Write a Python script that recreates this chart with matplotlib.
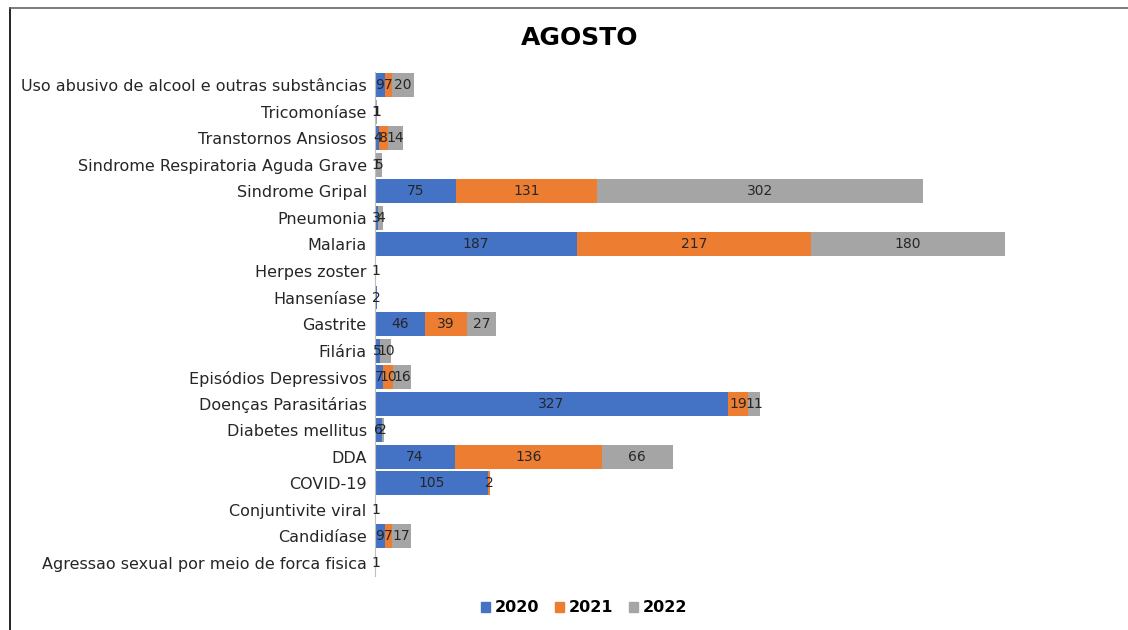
import matplotlib.pyplot as plt
import numpy as np
from matplotlib.lines import Line2D
from matplotlib.patches import Patch

# categories listed top to bottom as in the chart
CATEGORIES = [
    "Uso abusivo de alcool e outras substâncias",
    "Tricomoníase",
    "Transtornos Ansiosos",
    "Sindrome Respiratoria Aguda Grave",
    "Sindrome Gripal",
    "Pneumonia",
    "Malaria",
    "Herpes zoster",
    "Hanseníase",
    "Gastrite",
    "Filária",
    "Episódios Depressivos",
    "Doenças Parasitárias",
    "Diabetes mellitus",
    "DDA",
    "COVID-19",
    "Conjuntivite viral",
    "Candidíase",
    "Agressao sexual por meio de forca fisica",
]
Y2020 = [9, 1, 4, 1, 75, 3, 187, 1, 2, 46, 5, 7, 327, 6, 74, 105, 1, 9, 1]
Y2021 = [7, 0, 8, 0, 131, 0, 217, 0, 0, 39, 0, 10, 19, 0, 136, 2, 0, 7, 0]
Y2022 = [20, 1, 14, 5, 302, 4, 180, 0, 0, 27, 10, 16, 11, 2, 66, 0, 0, 17, 0]
YEARS = ["2020", "2021", "2022"]
COLORS = ["#4472C4", "#ED7D31", "#A5A5A5"]

fig = plt.figure(figsize=(11.28, 6.30), dpi=100)
ax = fig.add_axes([0.3325, 0.0853, 0.61, 0.8006])

ypos = np.arange(len(CATEGORIES))
left = np.zeros(len(CATEGORIES))
for vals, color in zip([Y2020, Y2021, Y2022], COLORS):
    vals = np.array(vals, dtype=float)
    ax.barh(ypos, vals, left=left, height=0.9, color=color)
    for y, v, l in zip(ypos, vals, left):
        if v > 0:
            ax.text(l + v / 2, y, f"{int(v)}", ha="center", va="center",
                    fontsize=10, color="#262626")
    left += vals

ax.set_ylim(len(CATEGORIES) - 0.5, -0.5)
ax.set_xlim(0, 638)
ax.set_yticks(ypos)
ax.set_yticklabels(CATEGORIES, fontsize=11.5, family="DejaVu Sans", color="#262626")
ax.tick_params(axis="y", length=0, pad=6)
ax.set_xticks([])
for side in ["top", "right", "bottom"]:
    ax.spines[side].set_visible(False)
ax.spines["left"].set_color("#BFBFBF")

fig.text(0.514, 0.94, "AGOSTO", ha="center", va="center", fontsize=18,
         fontweight="bold", family="DejaVu Sans", color="#000000")

handles = [Patch(facecolor=c, edgecolor=c) for c in COLORS]
leg = fig.legend(handles, YEARS, loc="center", bbox_to_anchor=(0.518, 0.035),
                 ncol=3, frameon=False, handlelength=0.55, handleheight=0.55,
                 handletextpad=0.3, columnspacing=1.0,
                 prop={"family": "DejaVu Sans", "weight": "bold", "size": 11.5})

# outer frame lines (left and top)
fig.add_artist(Line2D([0.009, 0.009], [0, 0.987], color="#000000", linewidth=1.2))
fig.add_artist(Line2D([0.009, 1.0], [0.987, 0.987], color="#666666", linewidth=1.2))

fig.savefig("out.png", dpi=100, facecolor="white")
